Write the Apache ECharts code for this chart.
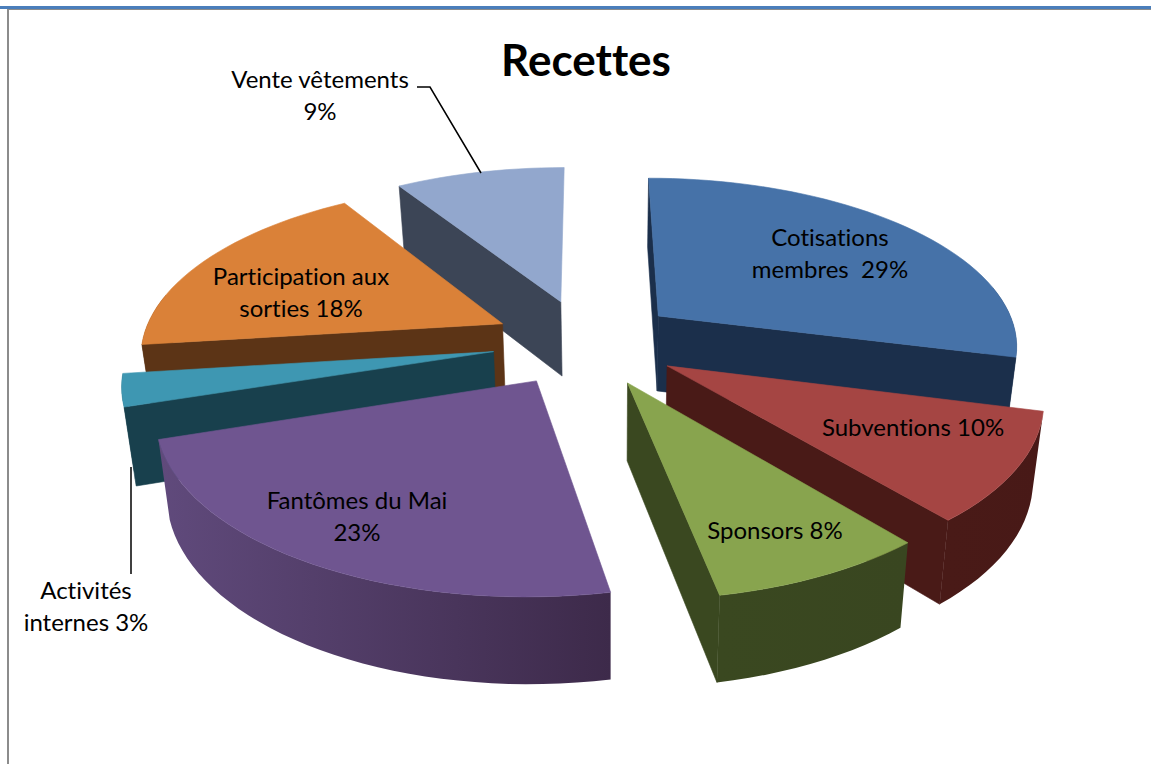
<!DOCTYPE html>
<html>
<head>
<meta charset="utf-8">
<title>Recettes</title>
<script src="https://cdn.jsdelivr.net/npm/echarts@6/dist/echarts.min.js"></script>
<style>
  html, body { margin: 0; padding: 0; background: #fff; }
  #chart { width: 1151px; height: 764px; }
  #chart text { font-variant-ligatures: none; }
</style>
</head>
<body>
<div id="chart"></div>
<script>
const chartTitle = 'Recettes'
// a trailing \n puts the percentage on its own line
const categories = ['Cotisations\nmembres ', 'Subventions', 'Sponsors', 'Fantômes du Mai\n', 'Activités\ninternes', 'Participation aux\nsorties', 'Vente vêtements\n']
const values = [29, 10, 8, 23, 3, 18, 9]

const topColors = ['#4672A8', '#A54543', '#88A44E', '#6F5590', '#3E97B2', '#DA8138', '#92A7CD']
const wallLight = ['#1B2F4B', '#491A17', '#3A4820', '#604A7C', '#18404D', '#5C3416', '#3C4556']
const wallDark = ['#1B2F4B', '#481917', '#394620', '#3D2A4A', '#18404D', '#5C3416', '#3C4556']

const labelAnchors = [[830, 252], [913, 426], [775, 529], [357, 515], [86, 605], [301, 291], [320, 94]]
const leaderLines = [
  [[417, 87], [430, 87], [481, 173]],
  [[131, 467], [131, 574]],
]

// projection of the tilted disc
const centerX = 586
const centerY = 342
const radiusX = 361
const radiusY = 167.5
const perspective = 0.16
const explode = 0.26

const total = values.reduce((sum, v) => sum + v, 0)

function project(u, v) {
  const w = 1 - perspective * v
  return [centerX + (radiusX * u) / w, centerY + (radiusY * v) / w]
}

function extrude(p) {
  return [611 + (p[0] - 611) * 0.975, p[1] + 75 + (p[1] - 318) * 0.044]
}

function sliceAngles(index) {
  const before = values.slice(0, index).reduce((sum, v) => sum + v, 0)
  const start = (before / total) * Math.PI * 2
  const end = ((before + values[index]) / total) * Math.PI * 2
  return { start, end, mid: (start + end) / 2 }
}

function renderSlice(params, api) {
  const index = params.dataIndex
  const { start, end, mid } = sliceAngles(index)
  const offU = explode * Math.sin(mid)
  const offV = -explode * Math.cos(mid)
  const depthOrder = Math.round((1 - Math.cos(mid)) * 50)

  const apex = project(offU, offV)
  const steps = Math.max(4, Math.ceil((end - start) / 0.04))
  const arc = []
  const frontArc = []
  for (let i = 0; i <= steps; i++) {
    const a = start + ((end - start) * i) / steps
    const p = project(offU + Math.sin(a), offV - Math.cos(a))
    arc.push(p)
    // the far part of the rim is turned away from the viewer
    if (Math.cos(a) < 0.2) {
      frontArc.push(p)
    }
  }
  const first = arc[0]
  const last = arc[steps]

  const children = []
  const wall = (points, fill) => {
    children.push({
      type: 'polygon',
      shape: { points },
      style: { fill, stroke: typeof fill === 'string' ? fill : null, lineWidth: 0.6 },
      z2: depthOrder,
    })
  }

  // radial cut faces, only the ones turned towards the viewer
  if (first[0] < apex[0] - 6) {
    wall([apex, first, extrude(first), extrude(apex)], wallDark[index])
  }
  if (last[0] > apex[0] + 6) {
    wall([apex, last, extrude(last), extrude(apex)], wallLight[index])
  }

  // rim, shaded along the arc
  if (frontArc.length > 1) {
    wall(
      frontArc.concat(frontArc.map(extrude).reverse()),
      new echarts.graphic.LinearGradient(
        first[0], 0, last[0], 0,
        [
          { offset: 0, color: wallDark[index] },
          { offset: 1, color: wallLight[index] },
        ],
        true,
      ),
    )
  }

  children.push({
    type: 'polygon',
    shape: { points: [apex].concat(arc) },
    style: { fill: topColors[index], stroke: topColors[index], lineWidth: 0.6 },
    z2: depthOrder,
  })

  const name = categories[index]
  children.push({
    type: 'text',
    z2: 200,
    style: {
      x: labelAnchors[index][0],
      y: labelAnchors[index][1],
      text: name + (name.endsWith('\n') ? '' : ' ') + api.value(0) + '%',
      align: 'center',
      verticalAlign: 'middle',
      fontFamily: 'Lato',
      fontSize: 24,
      lineHeight: 32,
      fill: '#000',
    },
  })

  return { type: 'group', children }
}

const chart = echarts.init(document.getElementById('chart'), null, { renderer: 'svg' })

chart.setOption({
  animation: false,
  backgroundColor: '#fff',
  title: {
    text: chartTitle,
    left: 581,
    top: 32,
    textAlign: 'center',
    textStyle: { fontFamily: 'Lato', fontSize: 44, fontWeight: 'bold', color: '#000' },
  },
  graphic: [
    { type: 'rect', shape: { x: 0, y: 6, width: 1151, height: 3 }, style: { fill: '#4A7EBB' } },
    { type: 'rect', shape: { x: 7, y: 9, width: 1144, height: 1 }, style: { fill: '#8C8C8C' } },
    { type: 'rect', shape: { x: 7, y: 9, width: 2, height: 755 }, style: { fill: '#8C8C8C' } },
  ].concat(
    leaderLines.map((points) => ({
      type: 'polyline',
      z: 10,
      shape: { points },
      style: { fill: 'none', stroke: '#000', lineWidth: 1.5 },
    })),
  ),
  series: [
    {
      type: 'custom',
      coordinateSystem: 'none',
      renderItem: renderSlice,
      data: values,
    },
  ],
})
</script>
</body>
</html>
